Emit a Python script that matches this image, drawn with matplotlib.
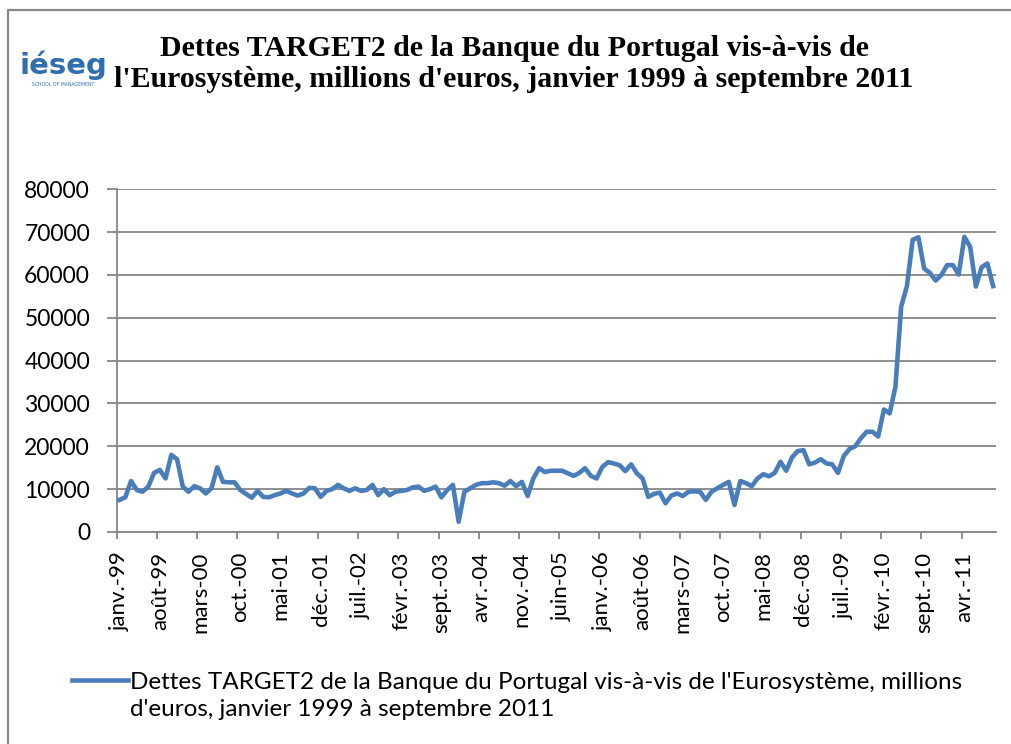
import matplotlib.pyplot as plt
import numpy as np
from matplotlib.lines import Line2D

# monthly values, janv. 1999 -> sept. 2011 (millions d'euros)
dettes = [
    7500, 8100, 11900, 9800, 9400, 10600, 13800, 14500, 12500, 18000, 17000, 10600,
    9400, 10700, 10200, 9000, 10200, 15100, 11700, 11600, 11600, 9800, 8900, 8000,
    9600, 8200, 8100, 8600, 9000, 9600, 9000, 8500, 9000, 10300, 10200, 8200,
    9600, 10000, 11000, 10200, 9600, 10200, 9600, 9800, 11000, 8600, 10000, 8600,
    9400, 9600, 9800, 10400, 10600, 9600, 10000, 10600, 8100, 9800, 11000, 2400,
    9400, 10200, 11000, 11400, 11400, 11600, 11400, 10800, 11900, 10700, 11700, 8400,
    12500, 14900, 14000, 14300, 14300, 14300, 13700, 13100, 13800, 14900, 13100, 12500,
    15200, 16300, 16000, 15600, 14200, 15800, 13700, 12500, 8200, 8900, 9200, 6700,
    8500, 9000, 8400, 9400, 9500, 9400, 7500, 9400, 10200, 11000, 11700, 6300,
    11900, 11400, 10700, 12500, 13500, 13000, 13800, 16400, 14300, 17400, 18900, 19100,
    15800, 16200, 17000, 16000, 15800, 13800, 17700, 19400, 20000, 21900, 23400, 23400,
    22300, 28600, 27700, 33900, 52600, 57400, 68200, 68800, 61500, 60500, 58700, 60000,
    62300, 62300, 60100, 68900, 66600, 57300, 61800, 62700, 57400,
]
tick_labels = ['janv.-99', 'août-99', 'mars-00', 'oct.-00', 'mai-01', 'déc.-01',
               'juil.-02', 'févr.-03', 'sept.-03', 'avr.-04', 'nov.-04', 'juin-05',
               'janv.-06', 'août-06', 'mars-07', 'oct.-07', 'mai-08', 'déc.-08',
               'juil.-09', 'févr.-10', 'sept.-10', 'avr.-11']
label_step = 7
series_name = ("Dettes TARGET2 de la Banque du Portugal vis-à-vis de l'Eurosystème, millions\n"
               "d'euros, janvier 1999 à septembre 2011")
title = ("Dettes TARGET2 de la Banque du Portugal vis-à-vis de\n"
         "l'Eurosystème, millions d'euros, janvier 1999 à septembre 2011")

W, H = 1011, 744
fig = plt.figure(figsize=(W / 100, H / 100), dpi=100)
ax = fig.add_axes([116.7 / W, 1 - 532 / H, (996 - 116.7) / W, (532 - 189.3) / H])

grid_col = '#868686'
x = np.arange(len(dettes))
ax.plot(x, dettes, color='#4a7ebb', linewidth=3.3, solid_joinstyle='round', zorder=3)

ax.set_xlim(-0.5, len(dettes) - 0.5)
ax.set_ylim(0, 80000)
ax.set_yticks(np.arange(0, 80001, 10000))
ax.yaxis.grid(True, color=grid_col, linewidth=1.3, zorder=1)
ax.set_xticks(np.arange(0, len(dettes), label_step))
ax.set_xticklabels(tick_labels, rotation=90, fontsize=16, family='Lato')
ax.set_xticks(np.arange(-0.5, len(dettes), label_step), minor=True)
ax.tick_params(axis='x', which='major', length=0, pad=14)
ax.tick_params(axis='x', which='minor', length=5, width=1.3, color=grid_col)
ax.tick_params(axis='y', length=7.2, width=1.3, color=grid_col, pad=12)
for lab in ax.get_yticklabels():
    lab.set_fontsize(16.5)
    lab.set_family('Lato')
for s in ['top', 'right']:
    ax.spines[s].set_visible(False)
for s in ['left', 'bottom']:
    ax.spines[s].set_color(grid_col)
    ax.spines[s].set_linewidth(1.3)

# title and logo
fig.text(514 / W, 1 - 64 / H, title, ha='center', va='center', fontsize=21.5,
         fontweight='bold', family='Liberation Serif', linespacing=1.2)
fig.text(63 / W, 1 - 65 / H, 'iéseg', ha='center', va='center', fontsize=21,
         fontweight='heavy', color='#2f6fae', family='DejaVu Sans')
fig.text(63 / W, 1 - 84 / H, 'SCHOOL OF MANAGEMENT', ha='center', va='center',
         fontsize=3.3, color='#2f6fae', family='DejaVu Sans')

# legend
fig.add_artist(Line2D([72 / W, 128 / W], [1 - 680 / H, 1 - 680 / H],
                      color='#4a7ebb', linewidth=3.3))
fig.text(130 / W, 1 - 696 / H, series_name, ha='left', va='center', fontsize=17.5,
         family='Lato', linespacing=1.33)

# chart border
fig.add_artist(Line2D([8 / W, 8 / W, 1.0], [0, 1 - 9.5 / H, 1 - 9.5 / H],
                      color='#888888', linewidth=1.6))

fig.savefig('out.png', dpi=100)
